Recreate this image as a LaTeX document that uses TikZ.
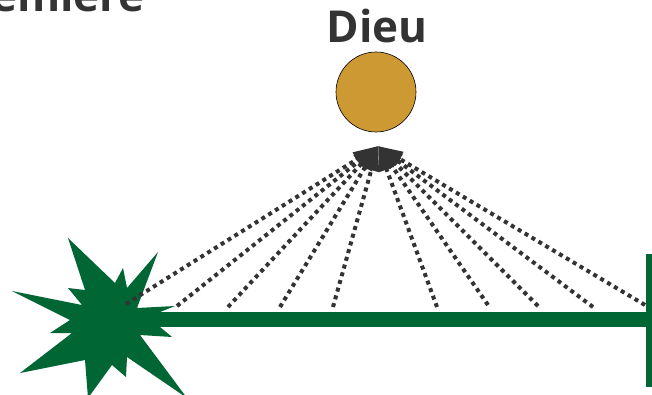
\documentclass[tikz,border=0pt]{standalone}
\usepackage{fontspec}
\setmainfont{Open Sans}
\usetikzlibrary{arrows.meta}
\definecolor{dgreen}{RGB}{0,102,51}
\definecolor{gold}{RGB}{204,153,51}
\definecolor{ink}{RGB}{51,51,51}
\tikzset{
  ray/.style={draw=ink, line width=4pt, dash pattern=on 4pt off 4pt,
    -{Triangle[length=25pt,width=15pt]}},
  title/.style={text=ink, font=\bfseries\fontsize{44}{44}\selectfont, inner sep=0pt},
}
\begin{document}
\begin{tikzpicture}[x=1pt,y=-1pt]
\useasboundingbox (0,0) rectangle (652,395);
\clip (0,0) rectangle (652,395);
% title cut at top left
\node[title, anchor=base east] (head) at (145,12) {Première};
% God
\node[title, anchor=base] (dieu) at (377,43) {Dieu};
\node[circle, draw=black, line width=0.6pt, fill=gold, minimum size=80pt, inner sep=0pt] (sun) at (376,92) {};
% green line and end bar
\fill[dgreen] (120,312) rectangle (660,327);
\fill[dgreen] (646,254) rectangle (660,387);
% starburst
\fill[dgreen] (68,238) -- (115,283) -- (123,268) -- (127,288) -- (158,252) -- (137,308)
  -- (175,306) -- (160,312) -- (160,327) -- (172,337) -- (140,335) -- (187,398)
  -- (127,357) -- (126,377) -- (112,365) -- (88,398) -- (85,360) -- (20,373)
  -- (72,333) -- (50,333) -- (70,320) -- (12,291) -- (82,305) -- (68,288)
  -- (85,290) -- cycle;
% rays
\coordinate (apex) at (378,146);
\foreach \x/\y [count=\i] in {126/304,177/306,228/307,280/307,333/307,437/307,488/305,538/306,593/307,645/305}{
  \coordinate (s\i) at (\x,\y);
  \draw[ray] (s\i) -- (apex);
}
\end{tikzpicture}
\end{document}
